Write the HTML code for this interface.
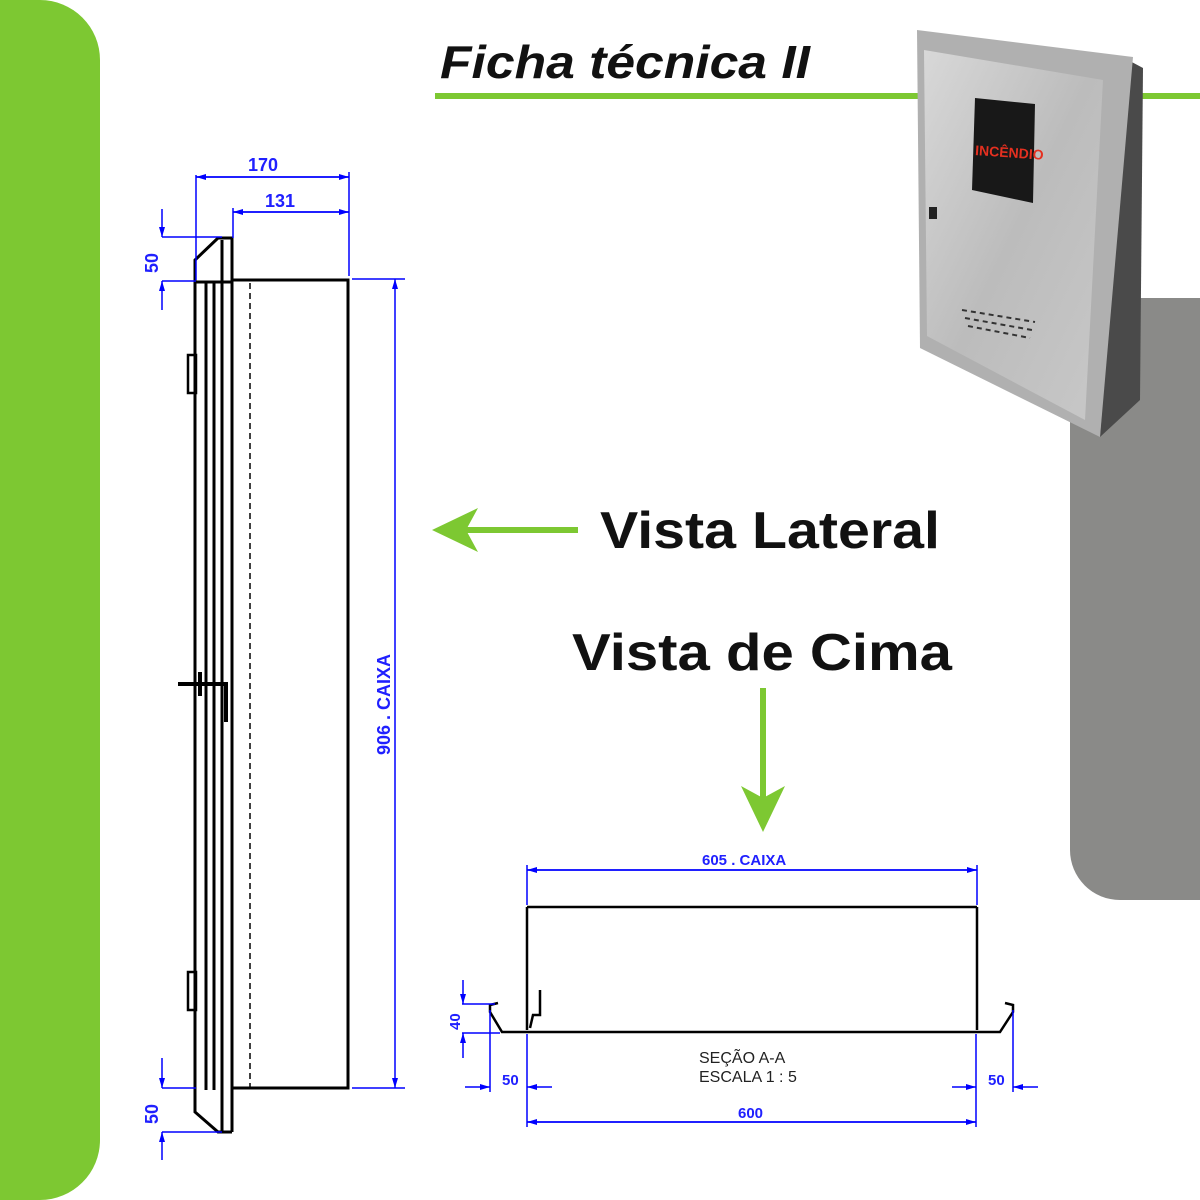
<!DOCTYPE html>
<html><head><meta charset="utf-8"><style>
html,body{margin:0;padding:0;background:#fff;}
svg{display:block;}
</style></head><body>
<svg width="1200" height="1200" viewBox="0 0 1200 1200" xmlns="http://www.w3.org/2000/svg">
<defs>
<linearGradient id="steel" x1="0" y1="0" x2="1" y2="1">
<stop offset="0" stop-color="#d8d8d8"/><stop offset="0.5" stop-color="#bcbcbc"/><stop offset="1" stop-color="#c8c8c8"/>
</linearGradient>
<marker id="ab" markerWidth="10" markerHeight="6" refX="10" refY="3" orient="auto" markerUnits="userSpaceOnUse"><path d="M0,0 L10,3 L0,6z" fill="#0000ff"/></marker>
</defs>
<path d="M0,0 H40 A60,60 0 0 1 100,60 V1140 A60,60 0 0 1 40,1200 H0z" fill="#7dc832"/>
<path d="M1200,298 V900 H1120 A50,50 0 0 1 1070,850 V348 A50,50 0 0 1 1120,298z" fill="#8a8a88"/>
<text x="440" y="78" font-family="Liberation Sans, sans-serif" font-size="46" font-weight="bold" font-style="italic" fill="#111" textLength="370" lengthAdjust="spacingAndGlyphs">Ficha técnica II</text>
<rect x="435" y="93" width="765" height="6" fill="#7dc832"/>
<!-- cabinet -->
<polygon points="1128,60 1143,68 1140,400 1100,437" fill="#4a4a4a"/>
<polygon points="917,30 1133,57 1100,437 920,348" fill="#b0b0b0"/>
<polygon points="924,50 1103,80 1085,420 927,336" fill="url(#steel)"/>
<polygon points="975,98 1035,104 1033,203 972,190" fill="#181818"/>
<text x="975" y="157" font-family="Liberation Sans, sans-serif" font-size="14" font-weight="bold" fill="#e53020" transform="rotate(4 1004 155)">INCÊNDIO</text>
<rect x="929" y="207" width="8" height="12" fill="#222"/>
<g stroke="#333" stroke-width="2" stroke-dasharray="5,4">
<line x1="962" y1="310" x2="1035" y2="322"/><line x1="965" y1="318" x2="1032" y2="330"/><line x1="968" y1="326" x2="1030" y2="338"/></g>
<!-- side view drawing -->
<g fill="none" stroke="#000" stroke-width="3">
<path d="M195,282 V1088 M206,282 V1090 M214,282 V1090 M222,240 V1132 M232,240 V1132"/>
<path d="M195,282 L195,260 L218,238 L232,238 L232,282 Z"/>
<path d="M195,1088 L195,1112 L218,1132 L232,1132"/>
<path d="M232,280 H348 V1088 H232"/>
<path d="M188,355 h8 v38 h-8z M188,972 h8 v38 h-8z" stroke-width="2.5"/>
<path d="M178,684 h50 M200,672 v24 M226,682 v40" stroke-width="4"/>
</g>
<line x1="250" y1="283" x2="250" y2="1087" stroke="#000" stroke-width="1.5" stroke-dasharray="6,4"/>
<g stroke="#0000ff" stroke-width="1.5" fill="none">
<line x1="196" y1="175" x2="196" y2="280"/><line x1="349" y1="172" x2="349" y2="276"/><line x1="233" y1="208" x2="233" y2="238"/>
<line x1="196" y1="177" x2="349" y2="177" marker-end="url(#ab)"/><line x1="349" y1="177" x2="196" y2="177" marker-end="url(#ab)"/>
<line x1="233" y1="212" x2="349" y2="212" marker-end="url(#ab)"/><line x1="349" y1="212" x2="233" y2="212" marker-end="url(#ab)"/>
<line x1="162" y1="237" x2="222" y2="237"/><line x1="162" y1="281" x2="196" y2="281"/>
<line x1="162" y1="209" x2="162" y2="237" marker-end="url(#ab)"/><line x1="162" y1="310" x2="162" y2="281" marker-end="url(#ab)"/>
<line x1="352" y1="279" x2="405" y2="279"/><line x1="352" y1="1088" x2="405" y2="1088"/>
<line x1="395" y1="683" x2="395" y2="279" marker-end="url(#ab)"/><line x1="395" y1="683" x2="395" y2="1088" marker-end="url(#ab)"/>
<line x1="162" y1="1088" x2="196" y2="1088"/><line x1="162" y1="1132" x2="222" y2="1132"/>
<line x1="162" y1="1058" x2="162" y2="1088" marker-end="url(#ab)"/><line x1="162" y1="1160" x2="162" y2="1132" marker-end="url(#ab)"/>
</g>
<g font-family="Liberation Sans, sans-serif" font-size="18" fill="#2020ff" font-weight="bold">
<text x="248" y="171">170</text><text x="265" y="207">131</text>
<text transform="translate(158,273) rotate(-90)">50</text>
<text transform="translate(158,1124) rotate(-90)">50</text>
<text transform="translate(390,755) rotate(-90)">906 . CAIXA</text>
</g>
<g stroke="#7dc832" stroke-width="6" fill="#7dc832">
<line x1="578" y1="530" x2="465" y2="530"/><polygon points="432,530 478,508 466,530 478,552" stroke="none"/>
<line x1="763" y1="688" x2="763" y2="800"/><polygon points="763,832 741,786 763,798 785,786" stroke="none"/>
</g>
<text x="600" y="548" font-family="Liberation Sans, sans-serif" font-size="52" font-weight="bold" fill="#111" textLength="340" lengthAdjust="spacingAndGlyphs">Vista Lateral</text>
<text x="572" y="670" font-family="Liberation Sans, sans-serif" font-size="52" font-weight="bold" fill="#111" textLength="380" lengthAdjust="spacingAndGlyphs">Vista de Cima</text>
<!-- top view -->
<g fill="none" stroke="#000" stroke-width="2.5">
<path d="M527,907 H977"/>
<path d="M527,907 V1030 M977,907 V1030"/>
<path d="M530,1032 H975"/>
<path d="M530,1032 L502,1032 L490,1012 L490,1005 L498,1003"/>
<path d="M530,1028 L533,1015 L540,1015 L540,990"/>
<path d="M975,1032 L1000,1032 L1013,1012 L1013,1005 L1005,1003"/>
</g>
<g stroke="#0000ff" stroke-width="1.5" fill="none">
<line x1="527" y1="865" x2="527" y2="905"/><line x1="977" y1="865" x2="977" y2="905"/>
<line x1="527" y1="870" x2="977" y2="870" marker-end="url(#ab)"/><line x1="977" y1="870" x2="527" y2="870" marker-end="url(#ab)"/>
<line x1="462" y1="1004" x2="495" y2="1004"/><line x1="462" y1="1033" x2="500" y2="1033"/>
<line x1="463" y1="980" x2="463" y2="1004" marker-end="url(#ab)"/><line x1="463" y1="1058" x2="463" y2="1033" marker-end="url(#ab)"/>
<line x1="490" y1="1010" x2="490" y2="1092"/><line x1="527" y1="1034" x2="527" y2="1127"/>
<line x1="465" y1="1087" x2="490" y2="1087" marker-end="url(#ab)"/><line x1="552" y1="1087" x2="527" y2="1087" marker-end="url(#ab)"/>
<line x1="976" y1="1034" x2="976" y2="1127"/><line x1="1013" y1="1010" x2="1013" y2="1092"/>
<line x1="952" y1="1087" x2="976" y2="1087" marker-end="url(#ab)"/><line x1="1038" y1="1087" x2="1013" y2="1087" marker-end="url(#ab)"/>
<line x1="527" y1="1122" x2="976" y2="1122" marker-end="url(#ab)"/><line x1="976" y1="1122" x2="527" y2="1122" marker-end="url(#ab)"/>
</g>
<g font-family="Liberation Sans, sans-serif" font-size="15" fill="#2020ff" font-weight="bold">
<text x="702" y="865">605 . CAIXA</text>
<text x="502" y="1085">50</text><text x="988" y="1085">50</text>
<text x="738" y="1118">600</text>
<text transform="translate(460,1030) rotate(-90)">40</text>
</g>
<g font-family="Liberation Sans, sans-serif" font-size="16" fill="#222">
<text x="699" y="1063">SEÇÃO A-A</text><text x="699" y="1082">ESCALA 1 : 5</text>
</g>
</svg>
</body></html>
